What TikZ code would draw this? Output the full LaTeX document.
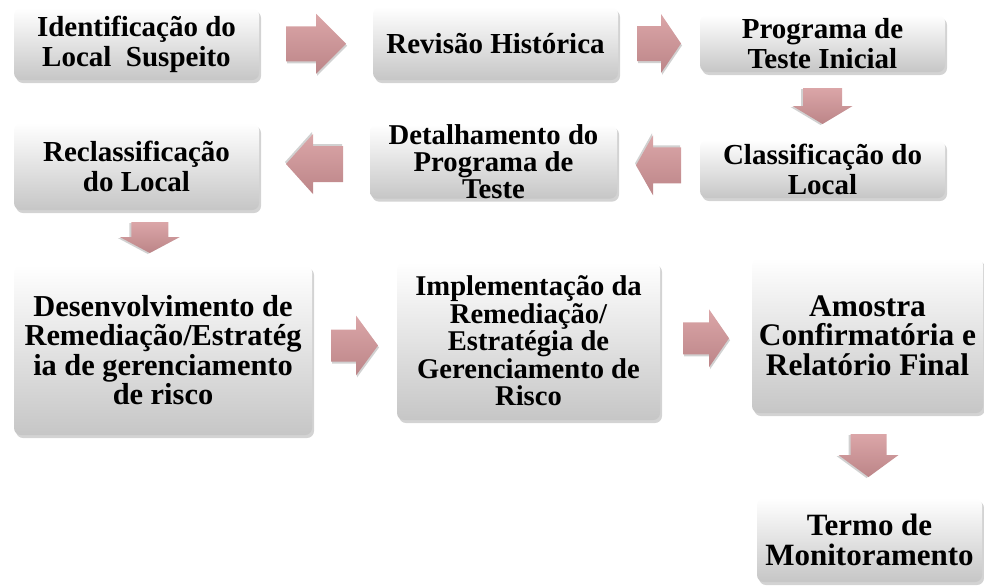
\documentclass[tikz,border=0pt]{standalone}
\usepackage{fontspec}
\setmainfont{Liberation Serif}
\usepackage{xcolor}
\usetikzlibrary{shadows,calc}

\definecolor{arrtop}{HTML}{DBA6A8}
\definecolor{arrbot}{HTML}{BC8588}
\definecolor{boxbot}{HTML}{C6C6C6}

% block arrow: #1 centre, #2 rotation, #3 half length, #4 half breadth, #5 half shaft, #6 head length
\newcommand{\blkarrow}[6]{%
  \begin{scope}[shift={#1}, rotate=#2]
    \fill[black, opacity=0.18, xshift=1pt, yshift=-2pt]
      (-#3,-#5) -- (#3-#6,-#5) -- (#3-#6,-#4) -- (#3,0) -- (#3-#6,#4) -- (#3-#6,#5) -- (-#3,#5) -- cycle;
    \shade[top color=arrtop, bottom color=arrbot]
      (-#3,-#5) -- (#3-#6,-#5) -- (#3-#6,-#4) -- (#3,0) -- (#3-#6,#4) -- (#3-#6,#5) -- (-#3,#5) -- cycle;
  \end{scope}}

\begin{document}
\begin{tikzpicture}[x=1pt, y=-1pt,
    stage/.style={rectangle, rounded corners=7pt, top color=white, bottom color=boxbot,
        drop shadow={shadow xshift=2pt, shadow yshift=-3pt, opacity=0.35},
        align=center, inner sep=0pt, font=\fontsize{29}{30}\selectfont\bfseries}
]
\useasboundingbox (0,0) rectangle (984,587);

% stages of the flow
\node[stage, minimum width=245, minimum height=72] (ident) at (136.5, 44) {Identificação do\\Local\ \ Suspeito};
\node[stage, minimum width=245, minimum height=73] (revis) at (495.5, 43.5) {Revisão Histórica};
\node[stage, minimum width=245, minimum height=57] (progr) at (822.5, 43.5) {Programa de\\Teste Inicial};
\node[stage, minimum width=245, minimum height=58] (class) at (822.5, 169) {Classificação do\\Local};
\node[stage, minimum width=247, minimum height=57, font=\fontsize{28.7}{27}\selectfont\bfseries] (detal) at (493.5, 161.5) {Detalhamento do\\Programa de\\Teste};
\node[stage, minimum width=245, minimum height=87] (recla) at (136.5, 166.5) {Reclassificação\\do Local};
\node[stage, minimum width=298, minimum height=170, font=\fontsize{30.4}{29.5}\selectfont\bfseries] (desen) at (163, 350) {Desenvolvimento de\\Remediação/Estratég\\ia\ de gerenciamento\\de risco};
\node[stage, minimum width=263, minimum height=158, font=\fontsize{28.6}{27.5}\selectfont\bfseries] (imple) at (528.5, 341) {Implementação da\\Remediação/\\Estratégia de\\Gerenciamento de\\Risco};
\node[stage, minimum width=231, minimum height=155, font=\fontsize{31.4}{29.5}\selectfont\bfseries] (amost) at (867.5, 335.5) {Amostra\\Confirmatória e\\Relatório Final};
\node[stage, minimum width=225, minimum height=84, font=\fontsize{31}{30}\selectfont\bfseries] (termo) at (869.5, 540) {Termo de\\Monitoramento};

% block arrows between the stages
\blkarrow{($(ident.east)!0.5!(revis.west)$)}{0}{30}{30}{17.5}{30}
\blkarrow{($(revis.east)!0.5!(progr.west)$)}{0}{22}{29.5}{17.5}{20}
\blkarrow{($(progr.south)!0.5!(class.north)$)}{-90}{18}{30}{19.5}{18}
\blkarrow{($(class.west)!0.5!(detal.east)$)}{180}{22.5}{30}{18}{17}
\blkarrow{($(detal.west)!0.5!(recla.east)$)}{180}{28.5}{30}{18}{27}
\blkarrow{($(recla.south -| 149.75,0)!0.5!(desen.north -| 149.75,0)$)}{-90}{15.5}{30}{18.5}{16}
\blkarrow{($(desen.east)!0.5!(imple.west)$)}{0}{23.5}{30}{16}{22}
\blkarrow{($(imple.east)!0.5!(amost.west)$)}{0}{23}{29}{16}{20}
\blkarrow{($(amost.south)!0.5!(termo.north)$)}{-90}{21.5}{30}{18}{22}
\end{tikzpicture}
\end{document}
